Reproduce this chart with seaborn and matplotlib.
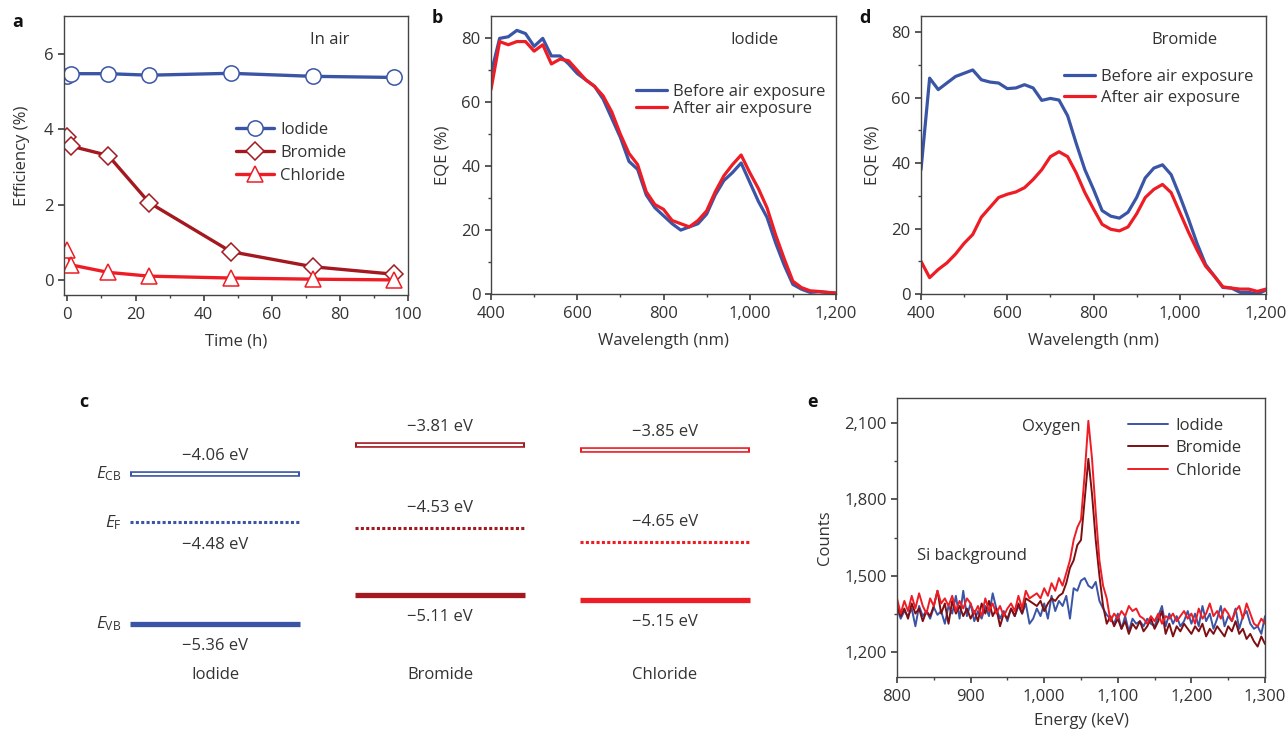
import numpy as np
import pandas as pd
import matplotlib
matplotlib.use("Agg")
import matplotlib.pyplot as plt
from matplotlib.ticker import FuncFormatter, MultipleLocator
import seaborn as sns

# ---------------- data ----------------
# panel a
time_h = [0, 1, 12, 24, 48, 72, 96]
eff_iodide = [5.42, 5.47, 5.47, 5.43, 5.48, 5.40, 5.37]
eff_bromide = [3.80, 3.55, 3.30, 2.05, 0.75, 0.35, 0.15]
eff_chloride = [0.80, 0.40, 0.20, 0.10, 0.05, 0.02, 0.00]

# panels b and d
wavelength = [400, 420, 440, 460, 480, 500, 520, 540, 560, 580, 600, 620, 640, 660,
              680, 700, 720, 740, 760, 780, 800, 820, 840, 860, 880, 900, 920, 940,
              960, 980, 1000, 1020, 1040, 1060, 1080, 1100, 1120, 1140, 1160, 1180, 1200]
eqe_i_before = [69, 80, 80.5, 82.5, 81.5, 77.5, 80, 74.5, 74.5, 72, 69, 67, 65, 61,
                55, 49, 41.5, 39, 31, 27, 24.5, 22, 20, 21, 22, 25, 31, 35.5,
                38, 41, 35, 29, 24, 16, 9, 3, 1.5, 0.5, 0.7, 0.5, 0.3]
eqe_i_after = [64, 79, 78, 79, 79, 76, 78, 72, 73.5, 73, 70, 67, 65, 62,
               57, 50, 44, 40.5, 32, 28, 26.5, 23, 22, 21, 23, 26, 32, 37,
               40.5, 43.5, 38, 33, 27, 18.5, 11, 4, 2, 1, 0.8, 0.5, 0.3]
eqe_b_before = [38, 66, 62.5, 64.5, 66.5, 67.5, 68.5, 65.5, 64.8, 64.5, 62.8, 63, 64, 63,
                59.2, 59.8, 59.3, 54.5, 46, 38, 32, 25.5, 23.8, 23.2, 25, 29.5, 35.5, 38.5,
                39.5, 36.5, 30, 23, 15.5, 9, 5.5, 2, 1.8, 0.5, 0.5, 0, 1.2]
eqe_b_after = [10, 5, 7.5, 9.5, 12.2, 15.5, 18.2, 23.5, 26.5, 29.5, 30.5, 31.2, 32.5, 35,
               38, 42, 43.5, 42, 37, 31, 26, 21.3, 19.8, 19.3, 20.5, 24.5, 29.5, 32,
               33.5, 31, 25, 19, 13.5, 8.5, 5.5, 2.2, 1.8, 1.5, 1.5, 0.8, 1.5]

# panel c (energy levels, eV)
materials = ["Iodide", "Bromide", "Chloride"]
e_cb = [-4.06, -3.81, -3.85]
e_f = [-4.48, -4.53, -4.65]
e_vb = [-5.36, -5.11, -5.15]

# panel e
energy_kev = list(range(800, 1301, 5))
counts_iodide = [1370, 1330, 1360, 1340, 1370, 1300, 1380, 1340, 1360, 1330, 1375, 1345, 1360, 1310,
                 1380, 1350, 1420, 1330, 1440, 1340, 1390, 1320, 1360, 1330, 1380, 1340, 1430, 1370,
                 1330, 1360, 1320, 1370, 1340, 1380, 1350, 1390, 1310, 1330, 1370, 1340, 1390, 1330,
                 1420, 1360, 1400, 1380, 1420, 1330, 1450, 1440, 1480, 1490, 1460, 1450, 1475, 1400,
                 1370, 1345, 1330, 1310, 1350, 1290, 1340, 1280, 1330, 1310, 1320, 1300, 1330, 1310,
                 1300, 1340, 1380, 1300, 1350, 1310, 1340, 1300, 1320, 1360, 1310, 1350, 1300, 1380,
                 1320, 1350, 1290, 1330, 1380, 1300, 1340, 1320, 1370, 1290, 1340, 1360, 1310, 1290,
                 1300, 1270, 1340]
counts_chloride = [1410, 1350, 1400, 1360, 1420, 1370, 1430, 1380, 1350, 1410, 1380, 1440, 1390, 1410,
                   1380, 1420, 1360, 1400, 1370, 1410, 1390, 1350, 1380, 1340, 1410, 1360, 1390, 1350,
                   1380, 1340, 1370, 1390, 1360, 1420, 1370, 1440, 1410, 1420, 1430, 1410, 1450, 1420,
                   1470, 1440, 1490, 1460, 1510, 1560, 1640, 1690, 1720, 1900, 2110, 1960, 1750, 1560,
                   1460, 1410, 1320, 1350, 1330, 1360, 1340, 1380, 1360, 1370, 1340, 1330, 1310, 1340,
                   1320, 1350, 1310, 1340, 1330, 1350, 1320, 1340, 1360, 1330, 1350, 1310, 1370, 1330,
                   1350, 1390, 1340, 1360, 1330, 1370, 1350, 1320, 1360, 1380, 1330, 1390, 1350, 1310,
                   1300, 1330, 1310]
counts_bromide = [1380, 1340, 1370, 1330, 1390, 1350, 1370, 1320, 1360, 1340, 1380, 1440, 1350, 1390,
                  1310, 1400, 1350, 1380, 1340, 1370, 1330, 1360, 1320, 1390, 1350, 1400, 1340, 1370,
                  1300, 1350, 1330, 1370, 1340, 1390, 1350, 1410, 1400, 1390, 1380, 1400, 1360, 1390,
                  1410, 1400, 1420, 1430, 1470, 1530, 1560, 1620, 1640, 1800, 1960, 1820, 1640, 1500,
                  1380, 1310, 1340, 1300, 1330, 1290, 1320, 1270, 1310, 1290, 1320, 1280, 1300, 1330,
                  1290, 1320, 1360, 1270, 1310, 1260, 1300, 1280, 1310, 1290, 1270, 1300, 1280, 1310,
                  1260, 1290, 1270, 1300, 1280, 1260, 1300, 1280, 1320, 1270, 1290, 1250, 1270, 1240,
                  1220, 1260, 1230]

# ---------------- style ----------------
BLUE = "#3a55a6"
DARKRED = "#a3191f"
RED = "#ee1d25"
BROWN = "#7d0f12"
TXT = "#333333"
SPINE = "#444444"

sns.set_theme(style="ticks")
plt.rcParams.update({
    "font.family": ["Open Sans", "DejaVu Sans"],
    "font.size": 12,
    "text.color": TXT,
    "axes.labelcolor": TXT,
    "axes.edgecolor": SPINE,
    "axes.linewidth": 1.0,
    "xtick.color": SPINE,
    "ytick.color": SPINE,
    "xtick.labelcolor": TXT,
    "ytick.labelcolor": TXT,
    "xtick.labelsize": 12,
    "ytick.labelsize": 12,
    "axes.labelsize": 12,
    "xtick.major.size": 4,
    "ytick.major.size": 4,
    "xtick.minor.size": 2.5,
    "ytick.minor.size": 2.5,
    "xtick.major.pad": 4.5,
    "mathtext.fontset": "custom",
    "mathtext.rm": "Open Sans",
    "mathtext.it": "Open Sans:italic",
})

W, H = 1287, 731
fig = plt.figure(figsize=(W / 100, H / 100), dpi=100)


def add_ax(x0, y0, x1, y1):
    return fig.add_axes([x0 / W, 1 - y1 / H, (x1 - x0) / W, (y1 - y0) / H])


comma = FuncFormatter(lambda v, p: f"{v:,.0f}")
LEG = dict(loc="upper left", frameon=False, borderaxespad=0, borderpad=0, fontsize=12)

# ---------------- panel a ----------------
axa = add_ax(64, 16, 408, 295)
for vals, col, mk, lab in [(eff_iodide, BLUE, "o", "Iodide"),
                            (eff_bromide, DARKRED, "D", "Bromide"),
                            (eff_chloride, RED, "^", "Chloride")]:
    df = pd.DataFrame({"t": time_h, "v": vals})
    ms = 11 if mk != "D" else 9
    sns.lineplot(data=df, x="t", y="v", ax=axa, color=col, lw=2.4, marker=mk,
                 markersize=ms, markerfacecolor="white", markeredgecolor=col,
                 markeredgewidth=1.1, estimator=None, sort=False, label=lab)
axa.set_xlim(-1, 100)
axa.set_ylim(-0.4, 7.0)
axa.set_yticks([0, 2, 4, 6])
axa.xaxis.set_major_locator(MultipleLocator(20))
axa.xaxis.set_minor_locator(MultipleLocator(10))
axa.set_xlabel("Time (h)", labelpad=8)
axa.set_ylabel("Efficiency (%)", labelpad=10)
axa.text(0.773, 0.914, "In air", transform=axa.transAxes, ha="center", va="center")
axa.legend(bbox_to_anchor=(0.50, 0.62), handlelength=2.3, handletextpad=0.35,
           labelspacing=0.42, **LEG)

# ---------------- panels b, d ----------------
def eqe_panel(ax, before, after, title, ylim, leg_anchor, spacing):
    df = pd.DataFrame({
        "wl": wavelength * 2,
        "eqe": before + after,
        "state": ["Before air exposure"] * len(wavelength) + ["After air exposure"] * len(wavelength),
    })
    sns.lineplot(data=df, x="wl", y="eqe", hue="state", ax=ax,
                 palette={"Before air exposure": BLUE, "After air exposure": RED},
                 lw=2.3, estimator=None, sort=False)
    ax.set_xlim(400, 1200)
    ax.set_ylim(*ylim)
    ax.xaxis.set_major_locator(MultipleLocator(200))
    ax.xaxis.set_minor_locator(MultipleLocator(100))
    ax.yaxis.set_major_locator(MultipleLocator(20))
    ax.yaxis.set_minor_locator(MultipleLocator(10))
    ax.xaxis.set_major_formatter(comma)
    ax.set_xlabel("Wavelength (nm)", labelpad=8)
    ax.set_ylabel("EQE (%)", labelpad=8)
    ax.text(0.765, 0.914, title, transform=ax.transAxes, ha="center", va="center")
    ax.legend(title=None, bbox_to_anchor=leg_anchor, handlelength=1.85, handletextpad=0.35,
              labelspacing=spacing, **LEG)


axb = add_ax(491, 16, 836, 294)
eqe_panel(axb, eqe_i_before, eqe_i_after, "Iodide", (0, 87), (0.42, 0.755), 0.05)
axd = add_ax(921, 16, 1266, 294)
eqe_panel(axd, eqe_b_before, eqe_b_after, "Bromide", (0, 85), (0.415, 0.81), 0.3)

# ---------------- panel c ----------------
axc = add_ax(60, 400, 780, 700)
axc.set_xlim(-0.689, 2.511)
axc.set_ylim(-6.019, -3.419)
axc.axis("off")
cols = [BLUE, DARKRED, RED]
hw = 0.378
for i, (m, cb, ef, vb, c) in enumerate(zip(materials, e_cb, e_f, e_vb, cols)):
    # conduction band (hollow bar)
    axc.hlines(cb, i - hw, i + hw, color=c, lw=4.0, capstyle="butt")
    axc.hlines(cb, i - hw + 0.008, i + hw - 0.008, color="white", lw=1.6, capstyle="butt")
    # Fermi level (dotted)
    axc.hlines(ef, i - hw, i + hw, color=c, lw=2.2, linestyles=(0, (1.0, 0.75)))
    # valence band (solid)
    axc.hlines(vb, i - hw, i + hw, color=c, lw=3.8, capstyle="butt")
    axc.annotate(f"\u2212{abs(cb):.2f} eV", (i, cb), xytext=(0, 13), textcoords="offset points",
                 ha="center", va="center", fontsize=12)
    ef_off = -16.5 if i == 0 else 14.5
    axc.annotate(f"\u2212{abs(ef):.2f} eV", (i, ef), xytext=(0, ef_off), textcoords="offset points",
                 ha="center", va="center", fontsize=12)
    axc.annotate(f"\u2212{abs(vb):.2f} eV", (i, vb), xytext=(0, -16), textcoords="offset points",
                 ha="center", va="center", fontsize=12)
    axc.text(i, 0.083, m, transform=axc.get_xaxis_transform(), ha="center", va="center", fontsize=12)
for lab, y in [(r"$E_{\mathrm{CB}}$", e_cb[0]), (r"$E_{\mathrm{F}}$", e_f[0]), (r"$E_{\mathrm{VB}}$", e_vb[0])]:
    axc.annotate(lab, (-hw, y), xytext=(-6, 0), textcoords="offset points",
                 ha="right", va="center", fontsize=12.5)

# ---------------- panel e ----------------
axe = add_ax(897, 398, 1265, 677)
n = len(energy_kev)
dfe = pd.DataFrame({
    "E": energy_kev * 3,
    "c": counts_iodide + counts_bromide + counts_chloride,
    "s": ["Iodide"] * n + ["Bromide"] * n + ["Chloride"] * n,
})
sns.lineplot(data=dfe, x="E", y="c", hue="s", ax=axe,
             palette={"Iodide": BLUE, "Bromide": BROWN, "Chloride": RED},
             lw=1.4, estimator=None, sort=False)
axe.set_xlim(800, 1300)
axe.set_ylim(1100, 2200)
axe.xaxis.set_major_locator(MultipleLocator(100))
axe.xaxis.set_minor_locator(MultipleLocator(50))
axe.yaxis.set_minor_locator(MultipleLocator(150))
axe.set_yticks([1200, 1500, 1800, 2100])
axe.xaxis.set_major_formatter(comma)
axe.yaxis.set_major_formatter(comma)
axe.set_xlabel("Energy (keV)", labelpad=6)
axe.set_ylabel("Counts", labelpad=8)
axe.text(1049, 2085, "Oxygen", ha="right", va="center")
axe.text(902, 1577, "Si background", ha="center", va="center")
axe.legend(title=None, bbox_to_anchor=(0.628, 0.93), handlelength=2.4, handletextpad=0.45,
           labelspacing=0.4, **LEG)

for ax in (axa, axb, axd, axe):
    for s in ax.spines.values():
        s.set_visible(True)
        s.set_color(SPINE)
    ax.tick_params(which="both", direction="out")

# panel letters
for letter, x, y in [("a", 18, 22), ("b", 437, 18), ("d", 865, 18), ("c", 84, 402), ("e", 813, 402)]:
    fig.text(x / W, 1 - y / H, letter, ha="center", va="center", fontsize=13,
             fontweight="bold", color="#111111")

fig.savefig("out.png", dpi=100)
